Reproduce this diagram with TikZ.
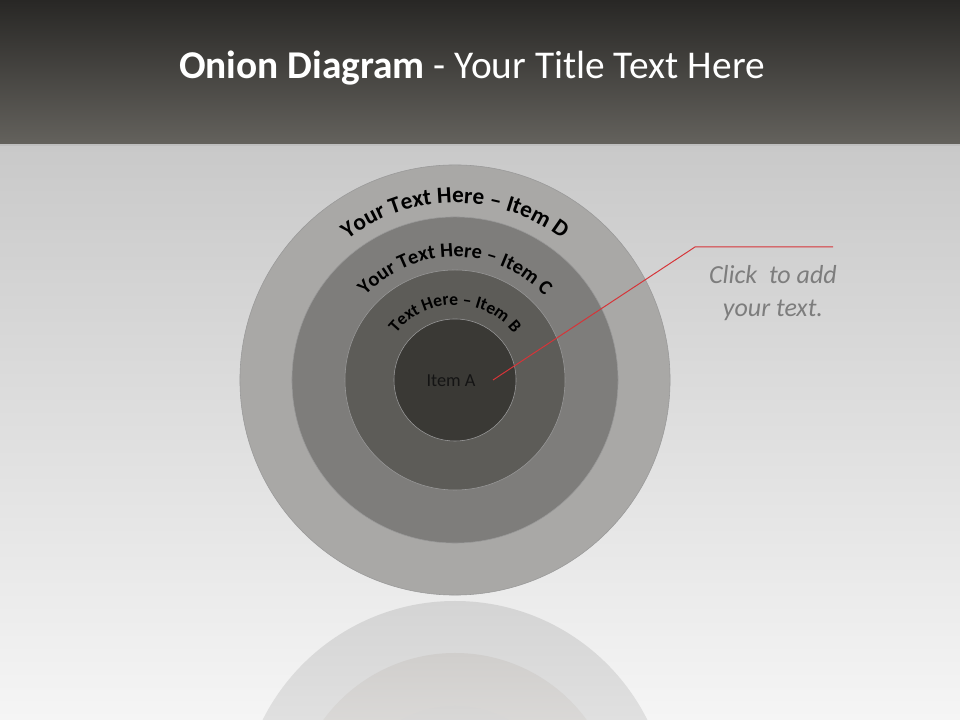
\documentclass[tikz,border=0pt]{standalone}
\usepackage{fontspec}
\setmainfont{Carlito}
\usetikzlibrary{decorations.text,positioning}
\definecolor{onbar}{RGB}{40,39,37}
\definecolor{onbarlow}{RGB}{100,98,93}
\definecolor{onback}{RGB}{201,201,201}
\definecolor{onbacklow}{RGB}{245,245,245}
\definecolor{onringd}{RGB}{169,168,166}
\definecolor{onringc}{RGB}{126,125,123}
\definecolor{onringb}{RGB}{93,92,88}
\definecolor{onringa}{RGB}{58,57,53}
\definecolor{onmird}{RGB}{212,212,212}
\definecolor{onmirc}{RGB}{208,206,204}
\definecolor{onmirb}{RGB}{214,213,212}
\definecolor{onred}{RGB}{214,52,56}
\definecolor{ongrey}{RGB}{125,125,125}
\tikzset{
  onring/.style={circle, draw=black!40, line width=.4pt, inner sep=0pt},
  onmirror/.style={top color=#1, bottom color=white},
  onlabel/.style={decorate, decoration={text along path, text align=center}},
  onlead/.style={draw=onred, line width=.7pt}
}

\begin{document}
\begin{tikzpicture}[x=0.025cm, y=0.025cm]
  \useasboundingbox (0,0) rectangle (960,720);
  % backdrop and title bar
  \shade[top color=onback, bottom color=onbacklow] (0,0) rectangle (960,575);
  \shade[top color=onbar, bottom color=onbarlow] (0,575) rectangle (960,720);
  \draw[white!75!black, line width=.8pt] (0,575) -- (960,575);
  \node[font=\fontsize{28}{30}\selectfont, text=white] (title) at (472,652)
    {\textbf{Onion Diagram} - Your Title Text Here};

  % reflection
  \begin{scope}
    \clip (0,0) rectangle (960,574);
    \shade[onmirror=onmird] (455,-96) circle[radius=215];
    \shade[onmirror=onmirc] (455,-96) circle[radius=163];
    \shade[onmirror=onmirb] (455,-96) circle[radius=110];
  \end{scope}

  % rings
  \node[onring, fill=onringd, minimum size=10.75cm] (ringD) at (455,340) {};
  \node[onring, fill=onringc, minimum size=8.15cm] (ringC) at (ringD.center) {};
  \node[onring, fill=onringb, minimum size=5.5cm] (ringB) at (ringD.center) {};
  \node[onring, fill=onringa, minimum size=3.05cm] (ringA) at (ringD.center) {};

  \path[onlabel, decoration={text={|\bfseries\fontsize{16.5}{17}\selectfont|Your Text Here – Item D}}]
    (ringD.center) ++(160:177) arc[start angle=160, end angle=20, radius=177];
  \path[onlabel, decoration={text={|\bfseries\fontsize{14.5}{15}\selectfont|Your Text Here – Item C}}]
    (ringD.center) ++(170:123) arc[start angle=170, end angle=10, radius=123];
  \path[onlabel, decoration={text={|\bfseries\fontsize{12.5}{13}\selectfont|Text Here – Item B}}]
    (ringD.center) ++(175:75) arc[start angle=175, end angle=5, radius=75];
  \node[font=\fontsize{13}{14}\selectfont, text=black!92] (itemA) at (451,339) {Item A};

  % callout
  \coordinate (lead) at (493,340);
  \coordinate (bend) at (695,473);
  \coordinate (tip) at (833,473);
  \draw[onlead] (lead) -- (bend) -- (tip);
  \node[font=\itshape\fontsize{18.5}{23}\selectfont, text=ongrey, align=center] (note) at (773,427)
    {Click\ \ to add\\your text.};
\end{tikzpicture}
\end{document}
